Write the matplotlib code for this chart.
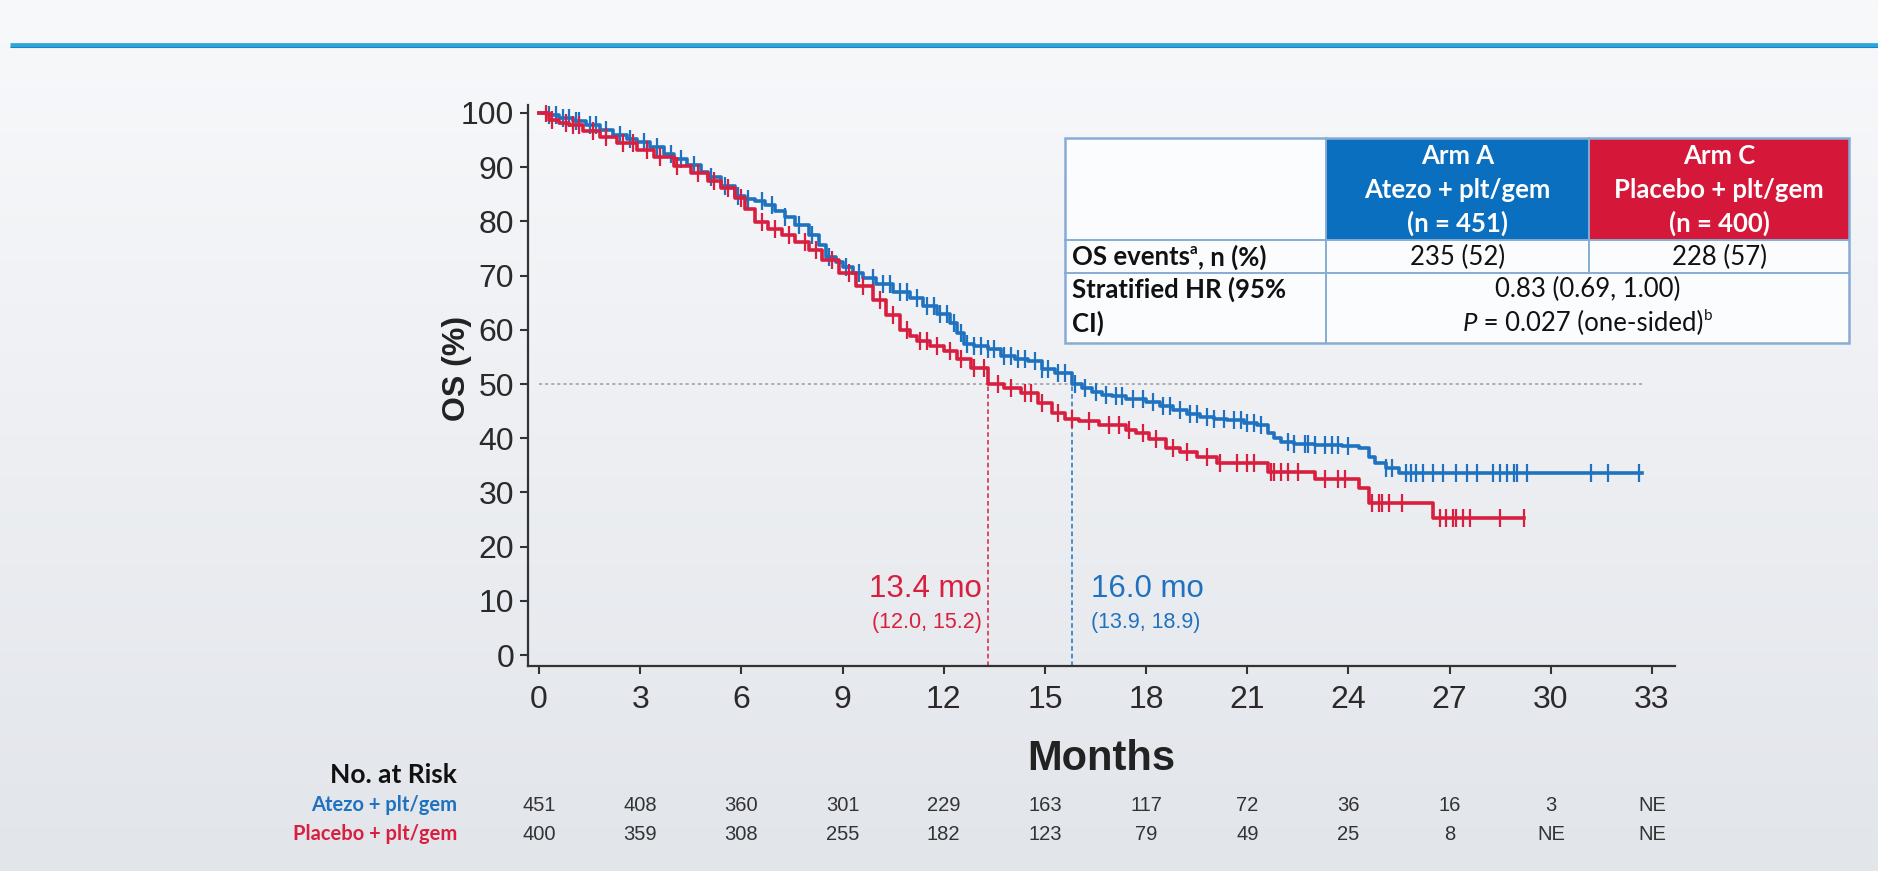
import numpy as np
import matplotlib
matplotlib.use("Agg")
import matplotlib.pyplot as plt
from matplotlib.patches import Rectangle
from matplotlib import transforms

plt.rcParams['font.family'] = ['Liberation Sans', 'DejaVu Sans']

W, H = 1878, 871

# ---------------- data ----------------
atezo_t = [0, 0.3, 0.6, 1.0, 1.4, 1.8, 2.2, 2.6, 2.9, 3.3, 3.7, 4.0, 4.4, 4.8, 5.0, 5.4, 5.8, 6.1,
           6.4, 6.7, 7.0, 7.3, 7.6, 8.0, 8.3, 8.5, 8.8, 9.0, 9.3, 9.6, 10.0, 10.5, 11.0, 11.4, 11.8,
           12.2, 12.4, 12.6, 12.9, 13.3, 13.7, 14.1, 14.5, 14.9, 15.3, 15.8, 16.1, 16.4, 16.7, 17.0,
           17.4, 18.0, 18.4, 18.8, 19.2, 19.6, 20.0, 20.4, 20.9, 21.3, 21.6, 21.8, 22.0, 22.4, 23.0,
           23.8, 24.3, 24.6, 24.8, 25.1, 25.5]
atezo_s = [100, 99.6, 99.0, 98.6, 97.8, 96.8, 96.0, 95.2, 94.6, 93.8, 92.5, 91.5, 90.4, 89.2, 88.2,
           86.6, 84.6, 84.2, 83.8, 83.0, 82.0, 80.8, 79.4, 77.4, 75.6, 73.5, 72.5, 71.5, 70.5, 69.5,
           68.5, 67.0, 65.8, 64.3, 63.0, 61.2, 59.5, 57.3, 57.0, 56.4, 55.1, 54.6, 54.2, 52.7, 52.0,
           50.0, 49.2, 48.6, 48.0, 47.7, 47.2, 46.6, 46.0, 45.2, 44.5, 44.0, 43.6, 43.3, 42.8, 42.4,
           41.0, 40.0, 39.3, 39.0, 38.8, 38.5, 38.1, 36.5, 35.4, 34.5, 33.6]
atezo_end = 32.7

placebo_t = [0, 0.3, 0.6, 0.9, 1.3, 1.8, 2.3, 2.9, 3.4, 4.0, 4.5, 5.0, 5.4, 5.8, 6.1, 6.4, 6.8, 7.2,
             7.6, 8.0, 8.4, 8.9, 9.4, 9.9, 10.3, 10.7, 11.0, 11.2, 11.6, 12.0, 12.4, 12.8, 13.3, 13.8,
             14.3, 14.8, 15.2, 15.6, 16.0, 16.6, 17.4, 17.7, 18.1, 18.6, 19.0, 19.5, 20.1, 21.6,
             23.0, 24.3, 24.6, 26.5]
placebo_s = [100, 98.8, 98.2, 97.7, 96.6, 95.6, 94.4, 93.1, 91.8, 90.3, 89.0, 87.5, 86.2, 84.4,
             82.2, 79.8, 78.6, 77.4, 76.2, 74.8, 72.8, 70.5, 68.0, 65.5, 62.8, 60.0, 58.8, 57.9,
             57.0, 56.1, 54.6, 53.0, 50.0, 49.2, 48.3, 46.5, 44.6, 43.6, 43.1, 42.4, 41.6, 41.0,
             39.8, 38.1, 37.5, 36.6, 35.5, 33.8, 32.5, 30.8, 28.0, 25.3]
placebo_end = 29.2

atezo_censor = [0.3, 0.5, 0.7, 0.9, 1.1, 1.2, 1.5, 1.7, 2.0, 2.4, 2.7, 3.1, 3.5, 3.9, 4.2, 4.6, 5.1,
                5.5, 5.9, 6.2, 6.6, 6.9, 7.3, 7.7, 8.1, 8.6, 9.1, 9.5, 9.9, 10.2, 10.4, 10.7, 10.9,
                11.2, 11.5, 11.7, 11.9, 12.1, 12.3, 12.5, 12.7, 12.9, 13.1, 13.3, 13.5, 13.8, 14.0,
                14.2, 14.4, 14.7, 14.9, 15.1, 15.4, 15.6, 15.9, 16.2, 16.5, 16.8, 17.1, 17.3, 17.6,
                17.9, 18.2, 18.5, 18.7, 19.0, 19.3, 19.5, 19.8, 20.0, 20.3, 20.6, 20.8, 21.0, 21.2,
                21.4, 22.2, 22.4, 22.7, 22.8, 23.0, 23.3, 23.5, 23.7, 24.0, 25.1, 25.3, 25.7, 25.85,
                26.0, 26.2, 26.5, 26.8, 27.2, 27.5, 27.8, 28.3, 28.5, 28.7, 28.9, 29.0, 29.3, 31.2,
                31.7, 32.6]
placebo_censor = [0.2, 0.4, 0.8, 1.0, 1.2, 1.6, 2.0, 2.5, 2.8, 3.2, 3.6, 4.1, 4.7, 5.2, 5.6, 6.0,
                  6.6, 7.0, 7.4, 7.9, 8.2, 8.7, 9.2, 9.6, 10.1, 10.5, 10.9, 11.3, 11.5, 11.8, 12.2,
                  12.5, 12.9, 13.2, 13.6, 14.0, 14.4, 14.6, 14.9, 15.4, 15.8, 16.3, 16.9, 17.2,
                  17.5, 17.9, 18.3, 18.8, 19.2, 19.8, 20.2, 20.7, 21.0, 21.2, 21.7, 21.8, 22.0,
                  22.2, 22.5, 23.3, 23.7, 23.9, 24.7, 24.9, 25.0, 25.2, 25.6, 26.7, 26.9, 27.1,
                  27.2, 27.4, 27.6, 28.5, 29.2]

median_x_placebo = 13.3
median_x_atezo = 15.8
median_label_placebo = ["13.4 mo", "(12.0, 15.2)"]
median_label_atezo = ["16.0 mo", "(13.9, 18.9)"]

x_ticks = list(range(0, 34, 3))
y_ticks = list(range(0, 101, 10))

risk_labels = ["Atezo + plt/gem", "Placebo + plt/gem"]
risk_atezo = ["451", "408", "360", "301", "229", "163", "117", "72", "36", "16", "3", "NE"]
risk_placebo = ["400", "359", "308", "255", "182", "123", "79", "49", "25", "8", "NE", "NE"]

table_header = [["Arm A", "Atezo + plt/gem", "(n = 451)"],
                ["Arm C", "Placebo + plt/gem", "(n = 400)"]]
os_events = ["235 (52)", "228 (57)"]
hr_text = "0.83 (0.69, 1.00)"
p_text = "0.027 (one-sided)"

# ---------------- styles ----------------
BLUE = "#1f72bf"
RED = "#d81f3f"
HDR_BLUE = "#0a6fbe"
HDR_RED = "#d5173a"
GRID_BLUE = "#86acd3"
CAL = ['Lato', 'DejaVu Sans']

fig = plt.figure(figsize=(W / 100, H / 100), dpi=100)

# background gradient
bg = fig.add_axes([0, 0, 1, 1], zorder=-5)
g = np.linspace(0, 1, 256)[:, None, None]
top = np.array([248, 249, 251]) / 255.0
bot = np.array([226, 229, 234]) / 255.0
img = top + (bot - top) * g
bg.imshow(img, aspect='auto', extent=[0, 1, 0, 1], origin='upper')
bg.set_xlim(0, 1)
bg.set_ylim(0, 1)
bg.axis('off')
bg.plot([10 / W, 1], [1 - 45 / H] * 2, color="#2ba7de", lw=3.4, solid_capstyle='butt')
bg.plot([10 / W, 1], [1 - 47.5 / H] * 2, color="#1b84bf", lw=0.8, solid_capstyle='butt')

# ---------------- main axes ----------------
PX_MONTH = (1652 - 539) / 33.0
PX_PCT = (655 - 113) / 100.0
ax = fig.add_axes([528 / W, 1 - 666 / H, (1675 - 528) / W, (666 - 105) / H])
ax.set_xlim(-(539 - 528) / PX_MONTH, (1675 - 539) / PX_MONTH)
ax.set_ylim(-(666 - 655) / PX_PCT, 100 + (113 - 105) / PX_PCT)
ax.patch.set_alpha(0)
for s in ['top', 'right']:
    ax.spines[s].set_visible(False)
for s in ['left', 'bottom']:
    ax.spines[s].set_color('#333333')
    ax.spines[s].set_linewidth(1.6)
ax.set_xticks(x_ticks)
ax.set_yticks(y_ticks)
ax.tick_params(direction='out', length=6, width=1.5, color='#333333',
               labelsize=23, labelcolor='#2a2a2a')
ax.tick_params(axis='x', pad=8)
ax.tick_params(axis='y', pad=4)

ax.set_ylabel("OS (%)", fontsize=23, fontweight='bold', color='#222222')
ax.yaxis.label.set_va('center')
ax.yaxis.label.set_ha('center')
ax.yaxis.set_label_coords(-0.062, 0.53)
ax.set_xlabel("Months", fontsize=30, fontweight='bold', color='#222222')
ax.xaxis.label.set_va('center')
ax.xaxis.set_label_coords(0.5, -0.165)

# reference lines
ax.plot([0, 32.8], [50, 50], color='#9a9a9a', lw=1.1, ls=(0, (2, 2)), zorder=1)
ybot = ax.get_ylim()[0]
ax.plot([median_x_placebo] * 2, [ybot, 50], color=RED, lw=1.1, ls=(0, (3, 2)), zorder=1)
ax.plot([median_x_atezo] * 2, [ybot, 50], color=BLUE, lw=1.1, ls=(0, (3, 2)), zorder=1)


def km(t, s, end, cens, color):
    t = np.asarray(t, float)
    s = np.asarray(s, float)
    ax.step(np.append(t, end), np.append(s, s[-1]), where='post', color=color, lw=2.6, zorder=3)
    c = np.asarray(cens, float)
    idx = np.searchsorted(t, c, side='right') - 1
    ax.plot(c, s[idx], ls='none', marker='|', ms=13, mew=1.6, color=color, zorder=3)


km(atezo_t, atezo_s, atezo_end, atezo_censor, BLUE)
km(placebo_t, placebo_s, placebo_end, placebo_censor, RED)

# median labels
ax.annotate(median_label_placebo[0], xy=(median_x_placebo, (655 - 589) / PX_PCT),
            xytext=(-6, 0), textcoords='offset pixels', ha='right', va='center',
            fontsize=22.5, color=RED)
ax.annotate(median_label_placebo[1], xy=(median_x_placebo, (655 - 622) / PX_PCT),
            xytext=(-6, 0), textcoords='offset pixels', ha='right', va='center',
            fontsize=15.5, color=RED)
ax.annotate(median_label_atezo[0], xy=(median_x_atezo, (655 - 589) / PX_PCT),
            xytext=(19, 0), textcoords='offset pixels', ha='left', va='center',
            fontsize=22.5, color=BLUE)
ax.annotate(median_label_atezo[1], xy=(median_x_atezo, (655 - 622) / PX_PCT),
            xytext=(19, 0), textcoords='offset pixels', ha='left', va='center',
            fontsize=15.5, color=BLUE)

# ---------------- overlay (pixel coords) ----------------
ov = fig.add_axes([0, 0, 1, 1], zorder=5)
ov.set_xlim(0, W)
ov.set_ylim(H, 0)
ov.axis('off')

# risk table
bt = transforms.blended_transform_factory(ax.transData, ov.transData)
ov.text(457, 775, "No. at Risk", ha='right', va='center', fontsize=19, fontweight='bold',
        family=CAL, color='#111111')
ov.text(457, 805, risk_labels[0], ha='right', va='center', fontsize=14.5, fontweight='bold',
        family=CAL, color=BLUE)
ov.text(457, 834, risk_labels[1], ha='right', va='center', fontsize=14.5, fontweight='bold',
        family=CAL, color=RED)
for xv, a, p in zip(x_ticks, risk_atezo, risk_placebo):
    ov.text(xv, 805, a, transform=bt, ha='center', va='center', fontsize=14.5, color='#333333')
    ov.text(xv, 834, p, transform=bt, ha='center', va='center', fontsize=14.5, color='#333333')

# summary table
L, C1, C2, R = 1065, 1326, 1589, 1849
T, HB, RB, B = 138, 240, 273, 343
ov.add_patch(Rectangle((L, T), R - L, B - T, fc='#fbfcfd', ec='none', zorder=1))
ov.add_patch(Rectangle((C1, T), C2 - C1, HB - T, fc=HDR_BLUE, ec='none', zorder=2))
ov.add_patch(Rectangle((C2, T), R - C2, HB - T, fc=HDR_RED, ec='none', zorder=2))
ov.add_patch(Rectangle((L, T), R - L, B - T, fc='none', ec=GRID_BLUE, lw=1.8, zorder=4))
ov.plot([L, R], [HB, HB], color=GRID_BLUE, lw=1.4, zorder=3)
ov.plot([L, R], [RB, RB], color=GRID_BLUE, lw=1.4, zorder=3)
ov.plot([C1, C1], [T, B], color=GRID_BLUE, lw=1.4, zorder=3)
ov.plot([C2, C2], [T, RB], color=GRID_BLUE, lw=1.4, zorder=3)

TFS = 18.5
for cx, lines in zip([(C1 + C2) / 2, (C2 + R) / 2], table_header):
    for yy, s in zip([156, 190, 223], lines):
        ov.text(cx, yy, s, ha='center', va='center', fontsize=TFS, fontweight='bold',
                family=CAL, color='white', zorder=5)
for cx, s in zip([(C1 + C2) / 2, (C2 + R) / 2], os_events):
    ov.text(cx, 257, s, ha='center', va='center', fontsize=TFS, family=CAL,
            color='#111111', zorder=5)
ov.text(L + 7, 289, "Stratified HR (95%", ha='left', va='center', fontsize=TFS,
        fontweight='bold', family=CAL, color='#111111', zorder=5)
ov.text(L + 7, 323, "CI)", ha='left', va='center', fontsize=TFS,
        fontweight='bold', family=CAL, color='#111111', zorder=5)
ov.text((C1 + R) / 2, 289, hr_text, ha='center', va='center', fontsize=TFS,
        family=CAL, color='#111111', zorder=5)

fig.canvas.draw()
renderer = fig.canvas.get_renderer()


def rich(x, y, pieces, ha='left'):
    """pieces: list of (text, kwargs, dy)"""
    objs = []
    widths = []
    for s, kw, dy in pieces:
        t = ov.text(0, y + dy, s, ha='left', va='center', family=CAL, color='#111111',
                    zorder=5, **kw)
        bb = t.get_window_extent(renderer)
        objs.append(t)
        widths.append(bb.width)
    total = sum(widths)
    x0 = x - total / 2 if ha == 'center' else x
    for t, w in zip(objs, widths):
        t.set_x(x0)
        x0 += w


rich(L + 7, 257, [("OS events", dict(fontsize=TFS, fontweight='bold'), 0),
                  ("a", dict(fontsize=11, fontweight='bold'), -7),
                  (", n (%)", dict(fontsize=TFS, fontweight='bold'), 0)])
rich((C1 + R) / 2, 323, [("P", dict(fontsize=TFS, style='italic'), 0),
                         (" = " + p_text, dict(fontsize=TFS), 0),
                         ("b", dict(fontsize=11), -7)], ha='center')

fig.savefig("out.png", dpi=100)
